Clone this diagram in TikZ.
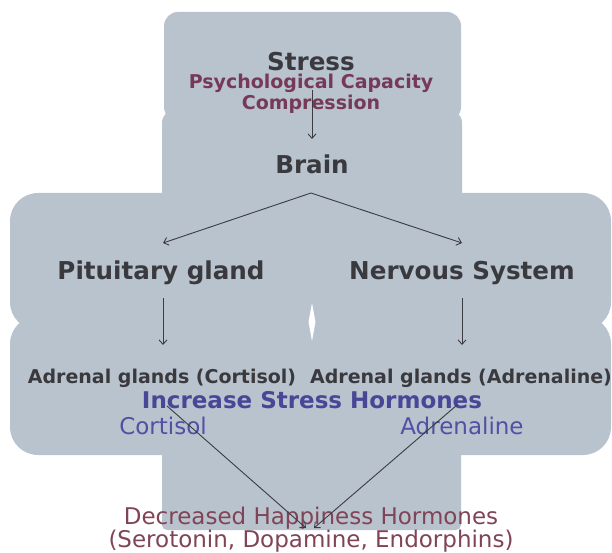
\documentclass[tikz,border=0pt]{standalone}
\usepackage{fontspec}
\setmainfont{DejaVu Sans}
\usetikzlibrary{arrows.meta,calc}
\definecolor{bgc}{RGB}{184,195,206}
\definecolor{darktxt}{RGB}{58,58,62}
\definecolor{maroonA}{RGB}{118,58,88}
\definecolor{maroonB}{RGB}{128,68,86}
\definecolor{blueA}{RGB}{72,70,150}
\definecolor{blueB}{RGB}{80,80,165}
\definecolor{arrowc}{RGB}{60,60,64}
\tikzset{
  lbl/.style={inner sep=0pt, anchor=base},
  big/.style={lbl, font=\bfseries\fontsize{24.6}{28}\selectfont, text=darktxt},
  sub/.style={lbl, font=\bfseries\fontsize{19}{22}\selectfont, text=maroonA},
  adr/.style={lbl, font=\bfseries\fontsize{19}{22}\selectfont, text=darktxt},
  incs/.style={lbl, font=\bfseries\fontsize{23}{27}\selectfont, text=blueA},
  horm/.style={lbl, font=\fontsize{23}{27}\selectfont, text=blueB},
  happy/.style={lbl, font=\fontsize{23}{27}\selectfont, text=maroonB},
  arr/.style={draw=arrowc, line width=0.9pt, -{Straight Barb[length=4.5pt,width=8pt]}},
  panel/.style={fill=bgc, draw=none}
}
\begin{document}
\begin{tikzpicture}[x=1pt,y=-1pt]
\useasboundingbox (0,0) rectangle (612,553);
% background cross
\fill[panel, rounded corners=14pt] (164,12) rectangle (461,121);
\fill[panel, rounded corners=14pt] (162,109) rectangle (462,215);
\fill[panel, rounded corners=5pt] (162,440) rectangle (461,530);
\fill[panel, rounded corners=28pt] (10,193) rectangle (325,330);
\fill[panel, rounded corners=28pt] (300,193) rectangle (611,330);
\fill[panel, rounded corners=28pt] (10,316) rectangle (325,455);
\fill[panel, rounded corners=28pt] (300,316) rectangle (611,455);
\fill[white] (312,303) -- (315.5,322) -- (312,341) -- (308.5,322) -- cycle;
% labels
\node[big] (stress) at (311,71) {Stress};
\node[sub] (psych) at (311,89) {Psychological Capacity};
\node[sub] (compr) at (311,110) {Compression};
\node[big] (brain) at (312,174) {Brain};
\node[big] (pit) at (161,279) {Pituitary gland};
\node[big] (nerv) at (462,279) {Nervous System};
\node[adr] (adc) at (162,383) {Adrenal glands (Cortisol)};
\node[adr] (ada) at (461,383) {Adrenal glands (Adrenaline)};
\node[incs] (incr) at (312,408) {Increase Stress Hormones};
\node[horm] (cort) at (163,434) {Cortisol};
\node[horm] (adren) at (462,434) {Adrenaline};
\node[happy] (dec) at (311,524) {Decreased Happiness Hormones};
\node[happy] (sero) at (311,547) {(Serotonin, Dopamine, Endorphins)};
% connectors
\draw[arr] ($(psych.base)+(1,1)$) -- ($(brain.base)+(0,-35)$);
\draw[arr] ($(brain.base)+(-1,19)$) -- ($(pit.base)+(2,-36)$);
\draw[arr] ($(brain.base)+(-1,19)$) -- ($(nerv.base)+(0,-36)$);
\draw[arr] ($(pit.base)+(2,19)$) -- ($(adc.base)+(1,-38)$);
\draw[arr] ($(nerv.base)+(0,19)$) -- ($(ada.base)+(1,-38)$);
\draw[arr] ($(incr.base)+(-145,-2)$) -- ($(dec.base)+(-5,4)$);
\draw[arr] ($(incr.base)+(145,-3)$) -- ($(dec.base)+(3,4)$);
\end{tikzpicture}
\end{document}
